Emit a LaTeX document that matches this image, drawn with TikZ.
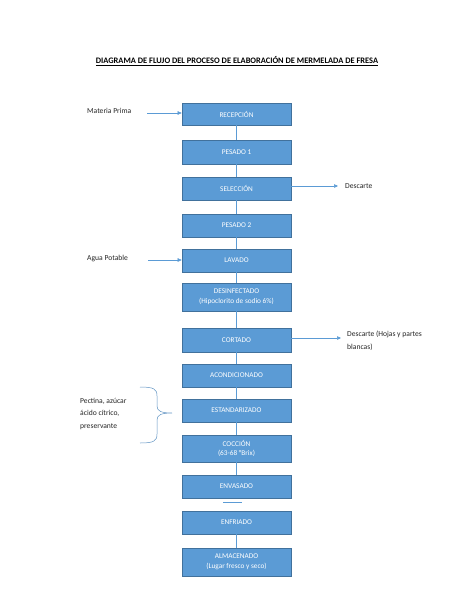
\documentclass[tikz,border=0pt]{standalone}
\usepackage{fontspec}
\setmainfont{Carlito}
\usetikzlibrary{arrows.meta}
\definecolor{boxfill}{HTML}{5B9BD5}
\definecolor{boxline}{HTML}{41719C}
\definecolor{conn}{HTML}{5B9BD5}
\tikzset{
  stepbox/.style={draw=boxline, line width=0.6pt, fill=boxfill, text=white,
    minimum width=109pt, inner sep=1pt, align=center, font=\fontsize{7.3pt}{9.8pt}\selectfont},
  link/.style={draw=conn, line width=0.5pt},
  arr/.style={draw=conn, line width=0.5pt, -{Triangle[length=4pt,width=3.5pt]}},
  lbl/.style={font=\fontsize{7.6pt}{12.5pt}\selectfont, text=black!85, inner sep=0pt, align=left}
}
\begin{document}
\begin{tikzpicture}[x=1pt,y=-1pt]
\useasboundingbox[fill=white] (0,0) rectangle (474,613);
\node[font=\bfseries\fontsize{8.4pt}{10pt}\selectfont] (title) at (237,61) {\underline{DIAGRAMA DE FLUJO DEL PROCESO DE ELABORACIÓN DE MERMELADA DE FRESA}};

\node[stepbox, minimum height=22pt] (b1) at (236.5,114) {RECEPCIÓN};
\node[stepbox, minimum height=24pt] (b2) at (236.5,152) {PESADO 1};
\node[stepbox, minimum height=23pt] (b3) at (236.5,188.5) {SELECCIÓN};
\node[stepbox, minimum height=23pt] (b4) at (236.5,225.5) {PESADO 2};
\node[stepbox, minimum height=23pt] (b5) at (236.5,260.5) {LAVADO};
\node[stepbox, minimum height=28pt] (b6) at (236.5,297) {DESINFECTADO\\(Hipoclorito de sodio 6\%)};
\node[stepbox, minimum height=24pt] (b7) at (236.5,340) {CORTADO};
\node[stepbox, minimum height=23pt] (b8) at (236.5,375.5) {ACONDICIONADO};
\node[stepbox, minimum height=23pt] (b9) at (236.5,410.5) {ESTANDARIZADO};
\node[stepbox, minimum height=27pt] (b10) at (236.5,448.5) {COCCIÓN\\(63-68 °Brix)};
\node[stepbox, minimum height=23pt] (b11) at (236.5,486.5) {ENVASADO};
\node[stepbox, minimum height=23pt] (b12) at (236.5,522.5) {ENFRIADO};
\node[stepbox, minimum height=28pt] (b13) at (236.5,562) {ALMACENADO\\(Lugar fresco y seco)};

\foreach \a/\b in {b1/b2,b2/b3,b3/b4,b4/b5,b5/b6,b6/b7,b7/b8,b8/b9,b9/b10,b10/b11,b12/b13}
  \draw[link] (\a.south) -- (\b.south |- \b.north);

\coordinate (d1) at (223,502);
\coordinate (d2) at (242,502);
\draw[link, line width=0.8pt] (d1) -- (d2);

% inputs
\node[lbl, anchor=west] (mp) at (87,110.5) {Materia Prima};
\coordinate (mpA) at (147,113);
\draw[arr] (mpA) -- (mpA -| b1.west);

\node[lbl, anchor=west] (ap) at (87,259) {Agua Potable};
\coordinate (apA) at (148,260);
\draw[arr] (apA) -- (apA -| b5.west);

% outputs
\node[lbl, anchor=west] (d3) at (345,186) {Descarte};
\coordinate (d3A) at (338,186);
\draw[arr] (b3.east |- d3A) -- (d3A);

\node[lbl, anchor=north west] (d7) at (347,331) {Descarte (Hojas y partes\\blancas)};
\coordinate (d7A) at (341,338);
\draw[arr] (b7.east |- d7A) -- (d7A);

% brace and additives
\node[lbl, anchor=west] (add) at (80,413.5) {Pectina, azúcar\\ácido cítrico,\\preservante};
\coordinate (brT) at (140,387);
\coordinate (brB) at (140,443);
\coordinate (brTip) at (172,413);
\draw[link, draw=conn!80!gray] (brT) .. controls (154,387) and (157,389) .. (157,396) -- (157,406)
  .. controls (157,411) and (161,413) .. (brTip)
  .. controls (161,413) and (157,415) .. (157,420) -- (157,434)
  .. controls (157,441) and (154,443) .. (brB);
\end{tikzpicture}
\end{document}
